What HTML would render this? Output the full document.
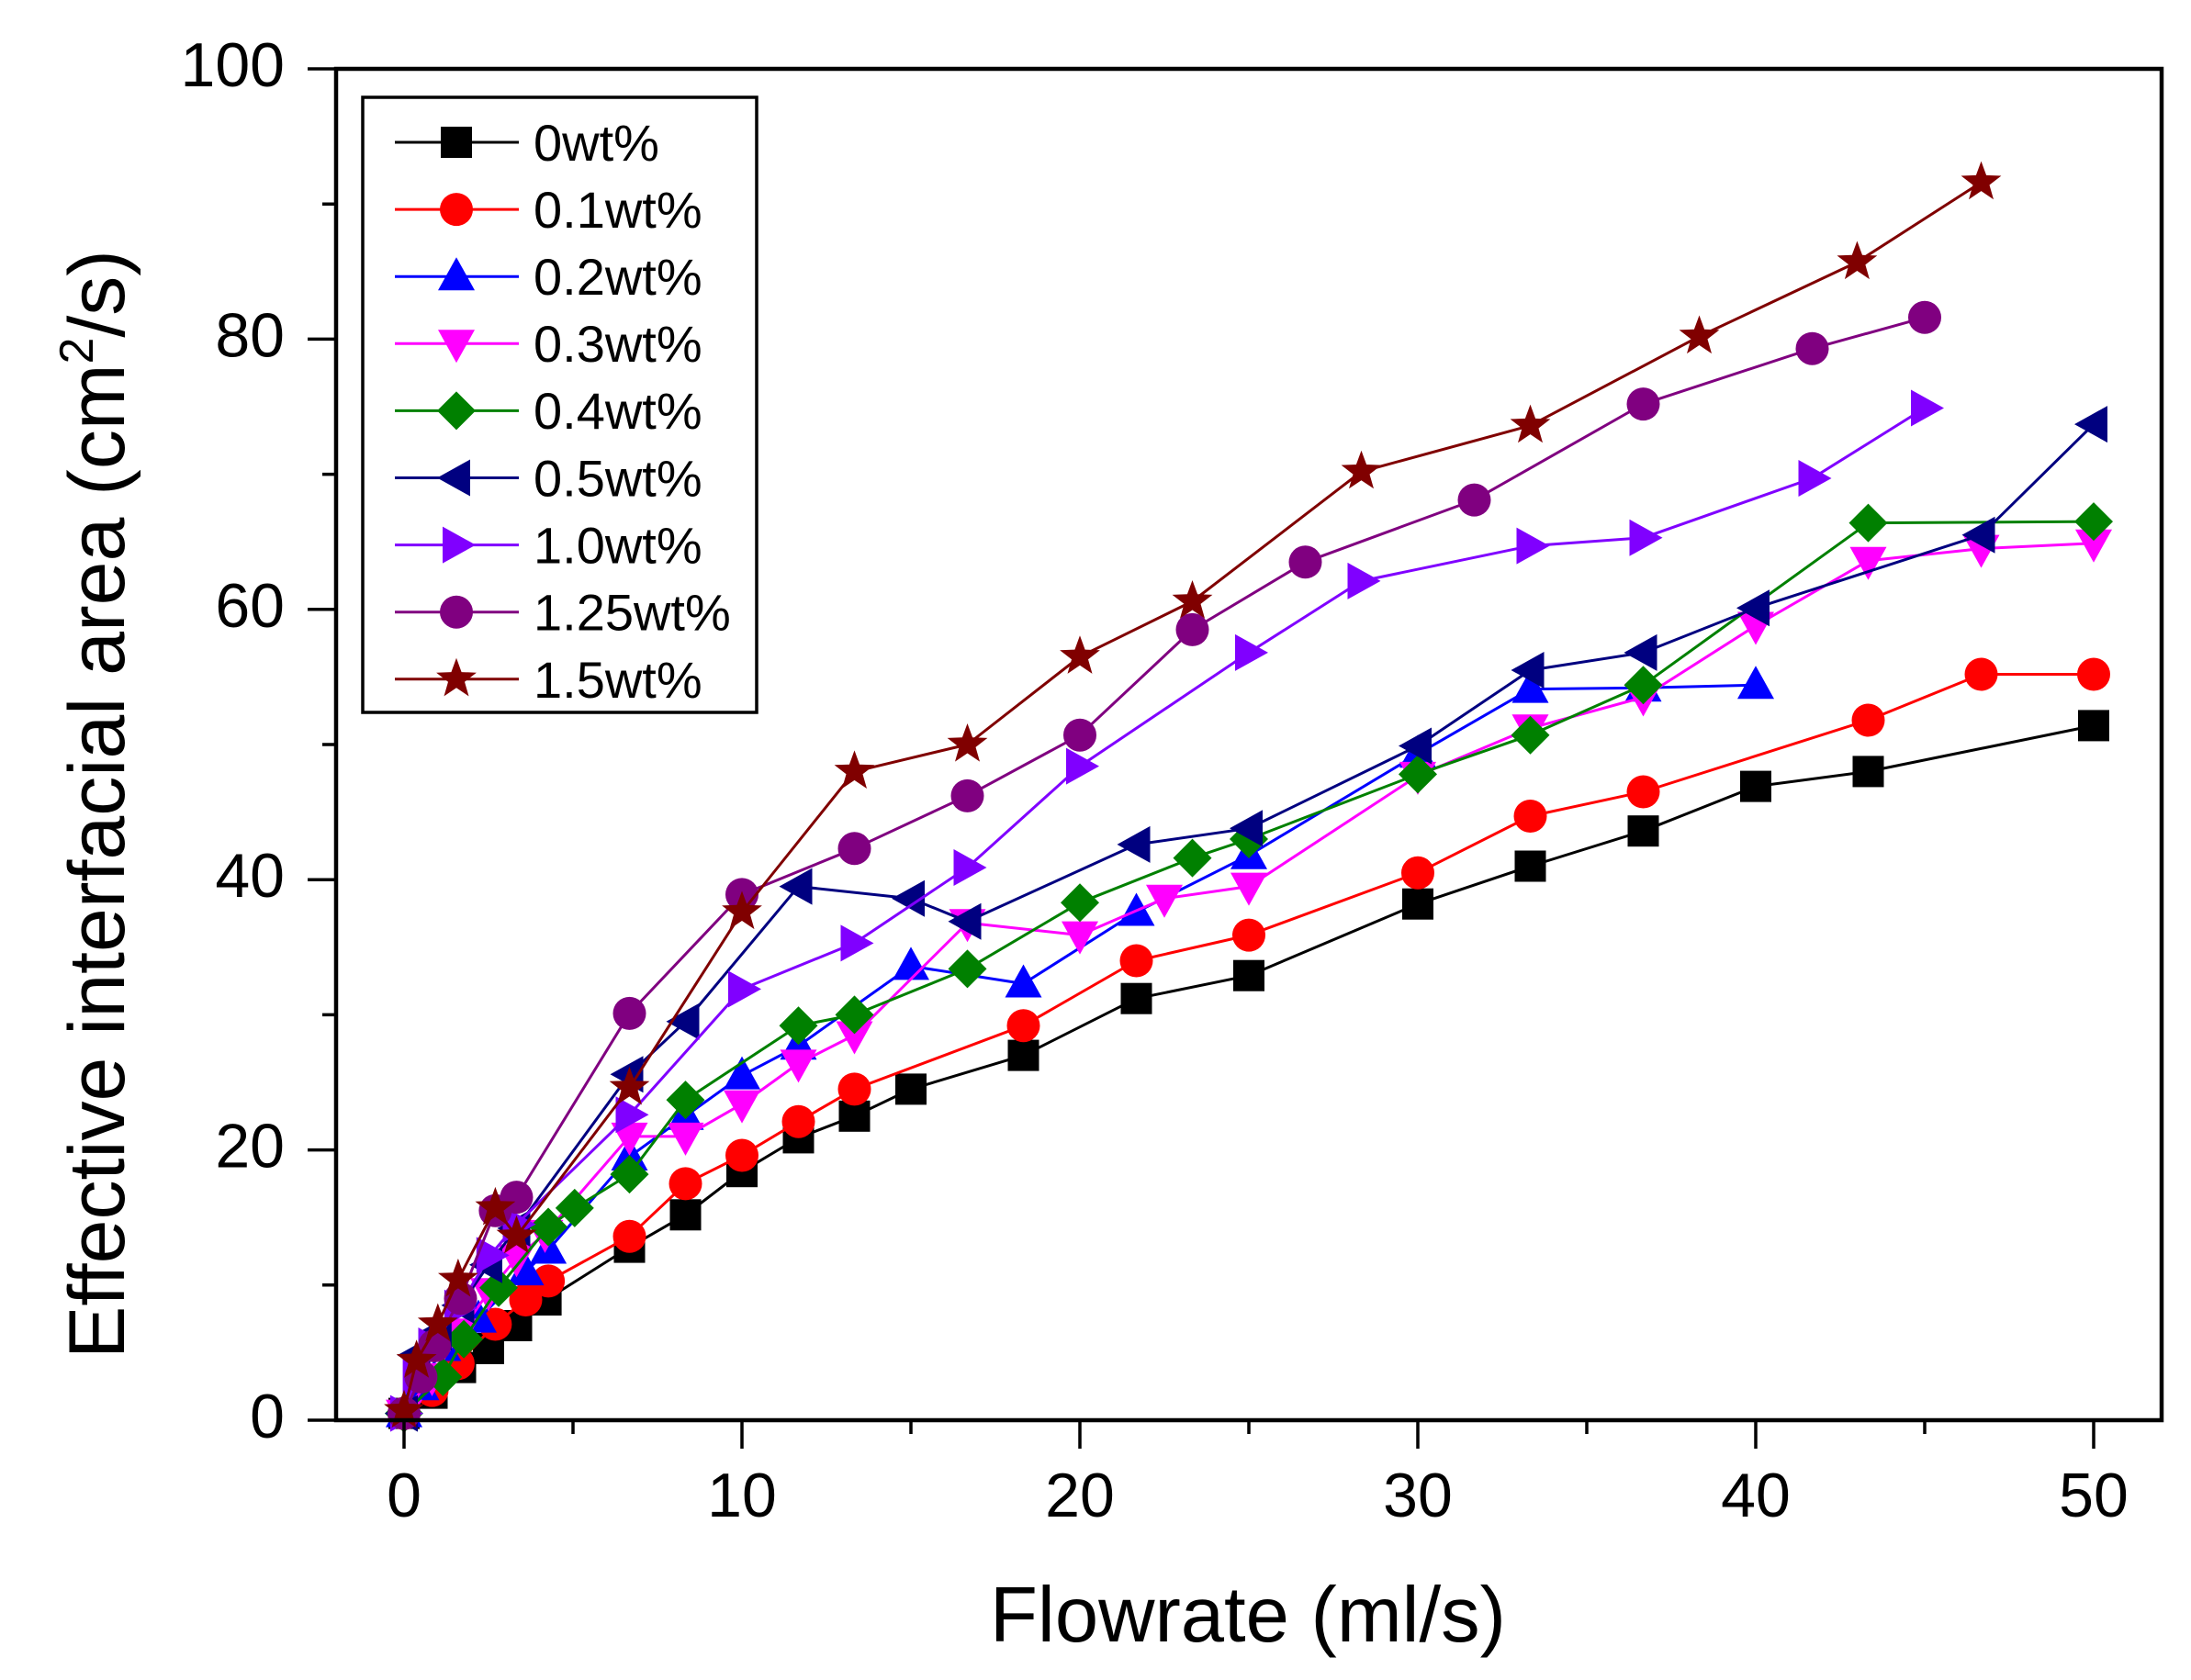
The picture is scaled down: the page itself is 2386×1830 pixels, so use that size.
<!DOCTYPE html>
<html><head><meta charset="utf-8"><style>html,body{margin:0;padding:0;background:#fff}svg{display:block}</style></head>
<body>
<svg id="s" width="2386" height="1830" viewBox="0 0 2386 1830" xmlns="http://www.w3.org/2000/svg" font-family="'Liberation Sans', Arial, sans-serif">
<rect width="2386" height="1830" fill="#fff"/>
<g id="data"></g>
<g stroke="#000" fill="none">
<rect x="366" y="75" width="1988" height="1472" stroke-width="4.5"/>
<path stroke-width="3.5" d="M335 1547h31M335 1252.6h31M335 958.2h31M335 663.8h31M335 369.4h31M335 75h31
M351 1399.8h15M351 1105.4h15M351 811h15M351 516.6h15M351 222.2h15
M440 1547v31M808 1547v31M1176 1547v31M1544 1547v31M1912 1547v31M2280 1547v31
M624 1547v15M992 1547v15M1360 1547v15M1728 1547v15M2096 1547v15"/>
</g>
<g font-size="68" fill="#000" text-anchor="end">
<text x="310" y="1566">0</text>
<text x="310" y="1271.6">20</text>
<text x="310" y="977.2">40</text>
<text x="310" y="682.8">60</text>
<text x="310" y="388.4">80</text>
<text x="310" y="94">100</text>
</g>
<g font-size="68" fill="#000" text-anchor="middle">
<text x="440" y="1652">0</text>
<text x="808" y="1652">10</text>
<text x="1176" y="1652">20</text>
<text x="1544" y="1652">30</text>
<text x="1912" y="1652">40</text>
<text x="2280" y="1652">50</text>
</g>
<text x="1359" y="1788" font-size="85" text-anchor="middle" fill="#000">Flowrate (ml/s)</text>
<text transform="translate(135,876) rotate(-90)" x="0" y="0" font-size="86" text-anchor="middle" fill="#000">Effective interfacial area (cm<tspan font-size="52" dy="-34">2</tspan><tspan dy="34">/s)</tspan></text>
<rect x="395" y="106" width="429" height="670" fill="none" stroke="#000" stroke-width="3.5"/>
<g id="leg"></g>
<g font-size="56" fill="#000">
<text x="581" y="175">0wt%</text>
<text x="581" y="248">0.1wt%</text>
<text x="581" y="321">0.2wt%</text>
<text x="581" y="394">0.3wt%</text>
<text x="581" y="467">0.4wt%</text>
<text x="581" y="540.5">0.5wt%</text>
<text x="581" y="613.6">1.0wt%</text>
<text x="581" y="686.7">1.25wt%</text>
<text x="581" y="759.8">1.5wt%</text>
</g>
</svg>
<script>
(function(){
var X=function(x){return 440+36.8*x;}, Y=function(y){return 1547-14.72*y;};
function star(cx,cy,R,r){var p=[];for(var i=0;i<10;i++){var a=-Math.PI/2+i*Math.PI/5;var rr=i%2?r:R;p.push((cx+rr*Math.cos(a)).toFixed(1)+','+(cy+rr*Math.sin(a)).toFixed(1));}return p.join(' ');}
function mk(t,x,y,c){
 switch(t){
 case 'sq': return '<rect x="'+(x-17)+'" y="'+(y-17)+'" width="34" height="34" fill="'+c+'"/>';
 case 'ci': return '<circle cx="'+x+'" cy="'+y+'" r="18" fill="'+c+'"/>';
 case 'tu': return '<polygon points="'+x+','+(y-21)+' '+(x+20)+','+(y+15)+' '+(x-20)+','+(y+15)+'" fill="'+c+'"/>';
 case 'td': return '<polygon points="'+x+','+(y+21)+' '+(x+20)+','+(y-15)+' '+(x-20)+','+(y-15)+'" fill="'+c+'"/>';
 case 'tl': return '<polygon points="'+(x-21)+','+y+' '+(x+15)+','+(y-20)+' '+(x+15)+','+(y+20)+'" fill="'+c+'"/>';
 case 'tr': return '<polygon points="'+(x+21)+','+y+' '+(x-15)+','+(y-20)+' '+(x-15)+','+(y+20)+'" fill="'+c+'"/>';
 case 'di': return '<polygon points="'+x+','+(y-21)+' '+(x+21)+','+y+' '+x+','+(y+21)+' '+(x-21)+','+y+'" fill="'+c+'"/>';
 case 'st': return '<polygon points="'+star(x,y,23,9.5)+'" fill="'+c+'"/>';
 }
}
var S=[
{c:'#000000',m:'sq',d:[[0,0.5],[0.83,2.0],[1.67,3.9],[2.5,5.3],[3.33,7.0],[4.2,8.9],[6.67,12.8],[8.33,15.2],[10,18.4],[11.67,20.9],[13.33,22.5],[15,24.5],[18.33,27.0],[21.67,31.2],[25,32.9],[30,38.2],[33.33,41.0],[36.67,43.6],[40,46.9],[43.33,48.0],[50,51.4]]},
{c:'#FF0000',m:'ci',d:[[0,0.5],[0.83,2.2],[1.6,4.2],[2.7,7.1],[3.6,8.9],[4.27,10.3],[6.67,13.6],[8.33,17.5],[10,19.6],[11.67,22.1],[13.33,24.5],[18.33,29.2],[21.67,34.0],[25,35.9],[30,40.5],[33.33,44.7],[36.67,46.5],[43.33,51.8],[46.67,55.2],[50,55.2]]},
{c:'#0000FF',m:'tu',d:[[0,0.5],[0.5,2.5],[1.15,5.4],[2.2,7.5],[3.6,11.0],[4.27,12.6],[6.67,19.5],[8.33,22.5],[10,25.5],[11.67,27.7],[15,33.6],[18.33,32.3],[21.67,37.6],[25,41.8],[30,49.3],[33.33,54.1],[36.67,54.2],[40,54.4]]},
{c:'#FF00FF',m:'td',d:[[0,0.5],[0.83,3.2],[1.67,6.5],[2.5,9.5],[3.33,12],[4.17,13.8],[6.67,21.0],[8.33,21.0],[10,23.4],[11.67,26.4],[13.33,28.5],[16.67,36.8],[20,35.9],[22.5,38.6],[25,39.5],[30,47.7],[33.33,51.2],[36.67,53.5],[40,58.8],[43.33,63.6],[46.67,64.5],[50,64.9]]},
{c:'#008000',m:'di',d:[[0,0.5],[1.15,3.2],[1.77,6.0],[2.8,9.8],[4.27,14.3],[5.05,15.7],[6.67,18.2],[8.33,23.7],[11.67,29.2],[13.33,30.0],[16.67,33.4],[20,38.3],[23.33,41.6],[25,43.0],[30,47.8],[33.33,50.7],[36.67,54.4],[43.33,66.4],[50,66.5]]},
{c:'#000080',m:'tl',d:[[0,0.5],[0.37,4.8],[1.0,6.5],[1.67,8.5],[2.5,11.5],[3.33,14.2],[6.67,25.6],[8.33,29.5],[11.67,39.5],[15,38.6],[16.67,36.9],[21.67,42.6],[25,43.8],[30,49.9],[33.33,55.5],[36.67,56.8],[40,60.1],[46.67,65.5],[50,73.7]]},
{c:'#8000FF',m:'tr',d:[[0,0.5],[0.37,3.2],[0.83,5.5],[1.6,8.3],[2.55,12.2],[3.33,14.5],[6.67,22.6],[10,31.9],[13.33,35.3],[16.67,40.9],[20,48.4],[25,56.8],[28.33,62.1],[33.33,64.7],[36.67,65.3],[41.67,69.7],[45,74.9]]},
{c:'#800080',m:'ci',d:[[0,0.5],[0.5,3.2],[0.9,5.5],[1.67,9.0],[2.7,15.5],[3.33,16.5],[6.67,30.1],[10,38.9],[13.33,42.3],[16.67,46.2],[20,50.7],[23.33,58.5],[26.67,63.5],[31.67,68.1],[36.67,75.2],[41.67,79.3],[45,81.6]]},
{c:'#800000',m:'st',d:[[0,0.7],[0.37,4.4],[1.0,7.1],[1.6,10.4],[2.7,15.7],[3.33,13.6],[6.67,24.6],[10,37.6],[13.33,48.0],[16.67,50.0],[20,56.5],[23.33,60.6],[28.33,70.2],[33.33,73.6],[38.33,80.2],[43.0,85.7],[46.67,91.6]]}
];
var h='';
S.forEach(function(s){
 var pts=s.d.map(function(p){return X(p[0]).toFixed(1)+','+Y(p[1]).toFixed(1);}).join(' ');
 h+='<polyline points="'+pts+'" fill="none" stroke="'+s.c+'" stroke-width="3" stroke-linejoin="round"/>';
 s.d.forEach(function(p){h+=mk(s.m,+X(p[0]).toFixed(1),+Y(p[1]).toFixed(1),s.c);});
});
document.getElementById('data').innerHTML=h;
var l='';
S.forEach(function(s,i){var y=155+73.1*i;
 l+='<line x1="430" y1="'+y+'" x2="565" y2="'+y+'" stroke="'+s.c+'" stroke-width="3"/>';
 l+=mk(s.m,497,+y.toFixed(1),s.c);
});
document.getElementById('leg').innerHTML=l;
})();
</script>
</body></html>
